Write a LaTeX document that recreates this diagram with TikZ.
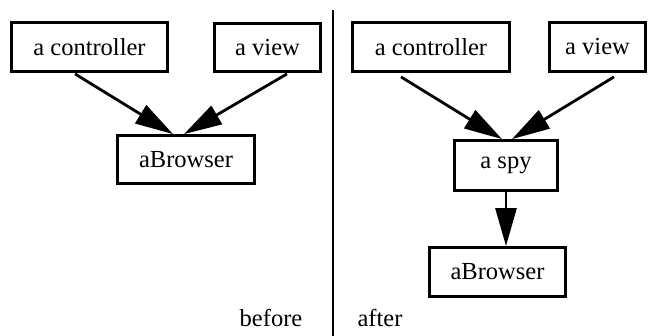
\documentclass[tikz,border=0pt]{standalone}
\usepackage{fontspec}
\setmainfont{Liberation Serif}
\usetikzlibrary{arrows.meta}
\begin{document}
\begin{tikzpicture}[x=1pt,y=-1pt,
  objbox/.style={draw=black, line width=2.8pt, inner sep=0pt, font=\fontsize{24.5}{29}\selectfont},
  link/.style={draw=black, line width=2.8pt, -{Triangle[length=38pt 0 0,width=21pt 0 0]}},
  caption/.style={anchor=base, inner sep=0pt, font=\fontsize{24.5}{29}\selectfont}]
\useasboundingbox (0,0) rectangle (648,336);
% before
\node[objbox, minimum width=156pt, minimum height=49pt] (lc) at (89.5,47) {a controller};
\node[objbox, minimum width=106pt, minimum height=48pt] (lv) at (267.5,47.5) {a view};
\node[objbox, minimum width=137pt, minimum height=48pt] (lb) at (186,159.5) {aBrowser};
\draw[link] ([xshift=-14.5pt,yshift=-1pt]lc.south) -- ([xshift=-13pt]lb.north);
\draw[link] ([xshift=19.5pt,yshift=-1pt]lv.south) -- ([xshift=-2pt]lb.north);
% divider
\coordinate (dtop) at (333,10);
\coordinate (dbot) at (333,336);
\draw[line width=1.3pt] (dtop) -- (dbot);
% after
\node[objbox, minimum width=157pt, minimum height=49pt] (rc) at (431,47) {a controller};
\node[objbox, minimum width=96pt, minimum height=49pt] (rv) at (597.5,47) {a view};
\node[objbox, minimum width=103pt, minimum height=50pt] (rs) at (506,165.5) {a spy};
\node[objbox, minimum width=136pt, minimum height=49pt] (rb) at (497.5,272) {aBrowser};
\draw[link] ([xshift=-30pt,yshift=-4pt]rc.south) -- ([xshift=-4pt]rs.north);
\draw[link] ([xshift=16.5pt,yshift=-4pt]rv.south) -- ([xshift=6pt]rs.north);
\draw[link] (rs.south) -- (rs.south |- rb.north);
% labels
\node[caption] (before) at (271,327) {before};
\node[caption] (after) at (380,327) {after};
\end{tikzpicture}
\end{document}
